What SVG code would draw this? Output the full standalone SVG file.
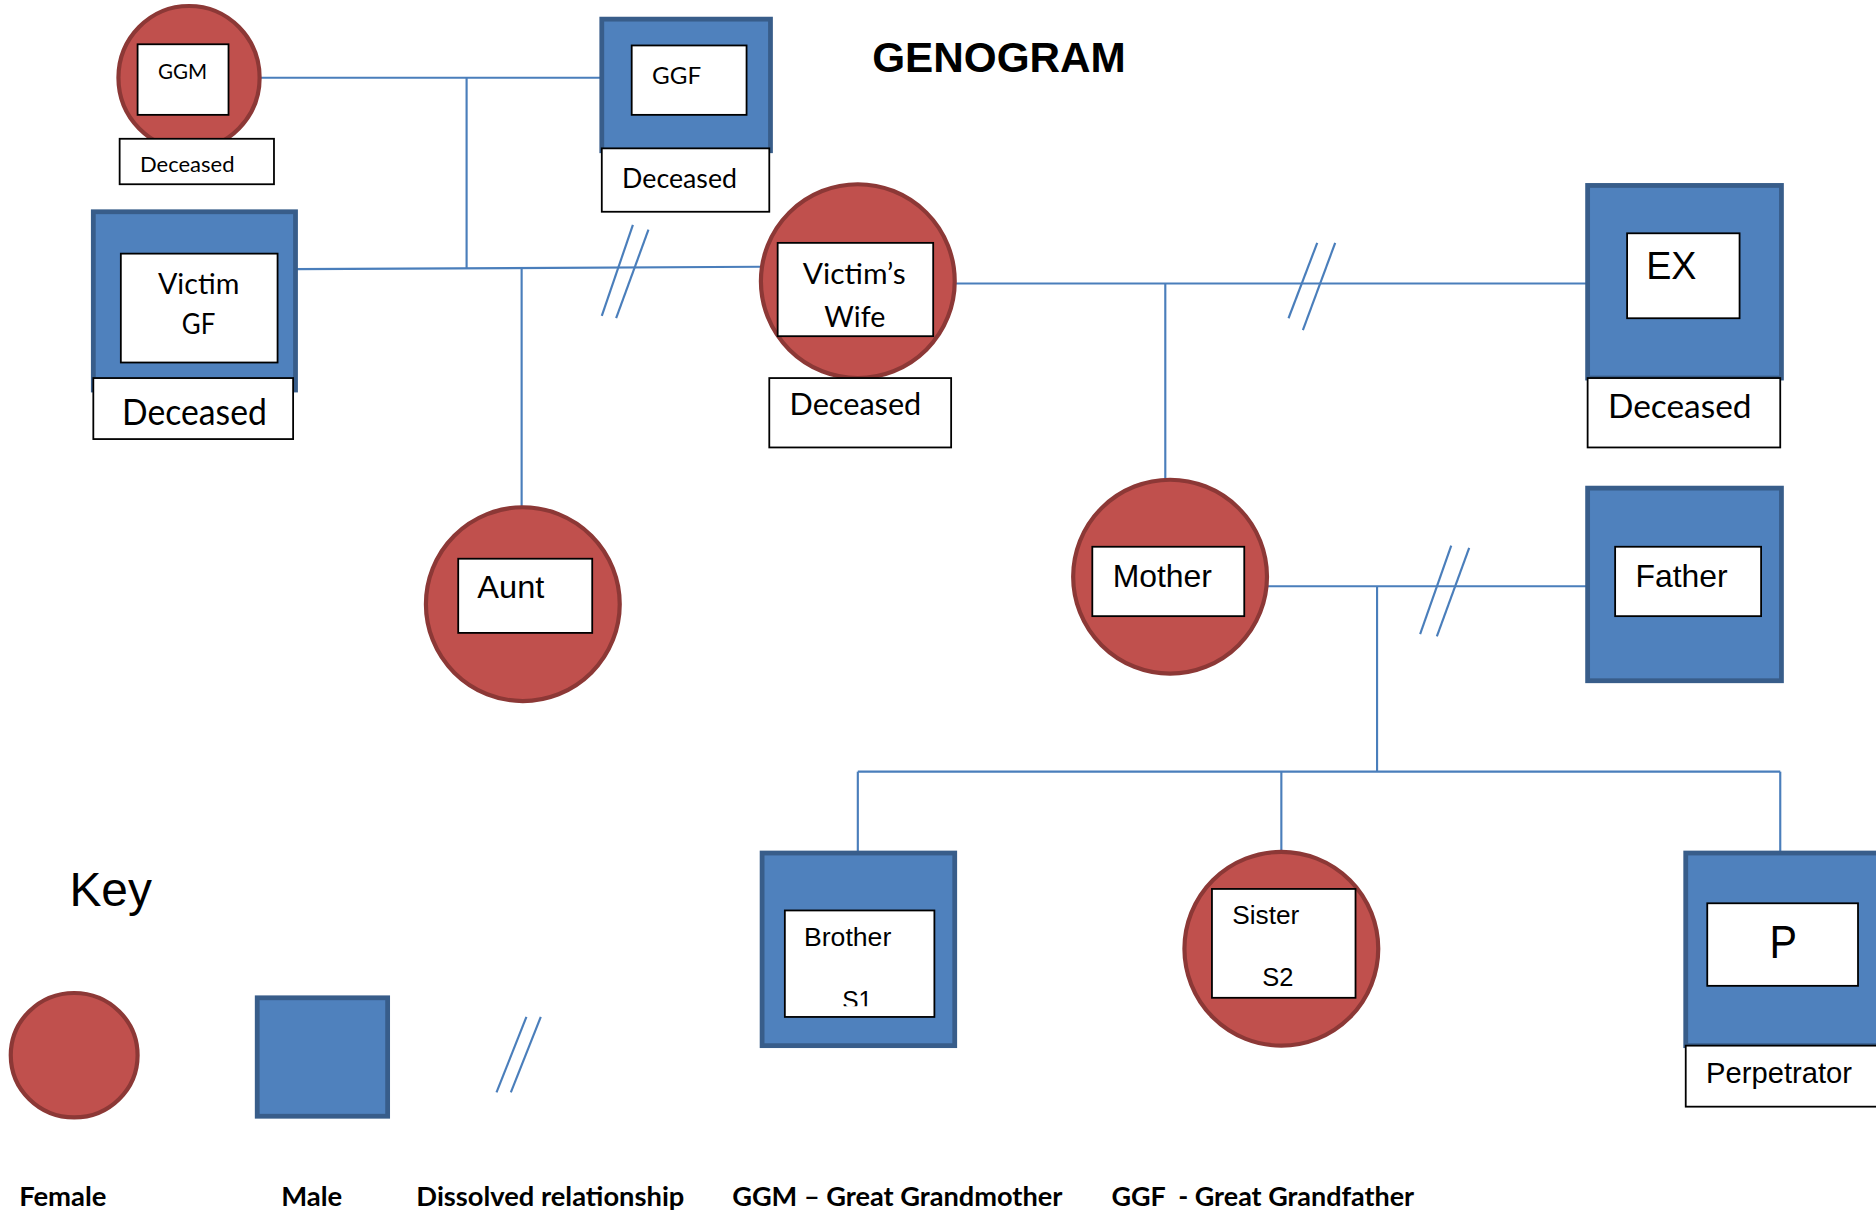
<svg xmlns="http://www.w3.org/2000/svg" width="1876" height="1214" viewBox="0 0 1876 1214">
<defs>
<style>
.f{fill:#C0504D;stroke:#8C3836;stroke-width:3.5}
.m{fill:#4F81BD;stroke:#385D8A;stroke-width:4}
.b{fill:#fff;stroke:#000;stroke-width:1.5}
.c{fill:none;stroke:#4A7EBB;stroke-width:1.8}
.t{font-family:"Liberation Sans",Arial,sans-serif;fill:#000}
.tb{font-family:"Liberation Sans",Arial,sans-serif;font-weight:bold;fill:#000}
.k{font-family:Lato,"Liberation Sans",sans-serif;fill:#000}
.kb{font-family:Lato,"Liberation Sans",sans-serif;font-weight:bold;fill:#000}
</style>
<clipPath id="s1clip"><rect x="656" y="761" width="125" height="80"/></clipPath>
</defs>
<rect width="1876" height="1214" fill="#fff"/>
<g transform="scale(1.1964)">
<g id="connectors">
<line class="c" x1="217" y1="65" x2="503" y2="65"/>
<line class="c" x1="390" y1="65" x2="390" y2="224"/>
<line class="c" x1="247" y1="225" x2="636" y2="223"/>
<line class="c" x1="436" y1="224" x2="436" y2="424"/>
<line class="c" x1="529" y1="188" x2="503" y2="264"/>
<line class="c" x1="542" y1="192" x2="515" y2="266"/>
<line class="c" x1="798" y1="237" x2="1327" y2="237"/>
<line class="c" x1="974" y1="237" x2="974" y2="401"/>
<line class="c" x1="1101" y1="203" x2="1077" y2="266"/>
<line class="c" x1="1116" y1="203" x2="1089" y2="276"/>
<line class="c" x1="1059" y1="490" x2="1327" y2="490"/>
<line class="c" x1="1213" y1="456" x2="1187" y2="530"/>
<line class="c" x1="1228" y1="458" x2="1201" y2="532"/>
<line class="c" x1="1151" y1="490" x2="1151" y2="645"/>
<line class="c" x1="717" y1="645" x2="1488" y2="645"/>
<line class="c" x1="717" y1="645" x2="717" y2="713"/>
<line class="c" x1="1071" y1="645" x2="1071" y2="712"/>
<line class="c" x1="1488" y1="645" x2="1488" y2="713"/>
</g>
<text class="tb" x="729" y="60" font-size="35" textLength="212" lengthAdjust="spacingAndGlyphs">GENOGRAM</text>
<g id="ggm">
<ellipse class="f" cx="158" cy="65" rx="59" ry="60"/>
<rect class="b" x="115" y="37" width="76" height="59"/>
<text class="k" x="132" y="66" font-size="17" textLength="41" lengthAdjust="spacingAndGlyphs">GGM</text>
<rect class="b" x="100" y="116" width="129" height="38"/>
<text class="k" x="117" y="144" font-size="18" textLength="79" lengthAdjust="spacingAndGlyphs">Deceased</text>
</g>
<g id="ggf">
<rect class="m" x="503" y="16" width="141" height="110"/>
<rect class="b" x="528" y="38" width="96" height="58"/>
<text class="k" x="545" y="70" font-size="20" textLength="41" lengthAdjust="spacingAndGlyphs">GGF</text>
<rect class="b" x="503" y="124" width="140" height="53"/>
<text class="k" x="520" y="157" font-size="22" textLength="96" lengthAdjust="spacingAndGlyphs">Deceased</text>
</g>
<g id="victim-gf">
<rect class="m" x="78" y="177" width="169" height="149"/>
<rect class="b" x="101" y="212" width="131" height="91"/>
<text class="k" x="132" y="246" font-size="24" textLength="68" lengthAdjust="spacingAndGlyphs">Victim</text>
<text class="k" x="152" y="279" font-size="24" textLength="28" lengthAdjust="spacingAndGlyphs">GF</text>
<rect class="b" x="78" y="316" width="167" height="51"/>
<text class="k" x="102" y="355" font-size="30" textLength="121" lengthAdjust="spacingAndGlyphs">Deceased</text>
</g>
<g id="victims-wife">
<ellipse class="f" cx="717" cy="235" rx="81" ry="81"/>
<rect class="b" x="650" y="203" width="130" height="78"/>
<text class="k" x="671" y="237" font-size="24" textLength="86" lengthAdjust="spacingAndGlyphs">Victim’s</text>
<text class="k" x="689" y="273" font-size="24" textLength="51" lengthAdjust="spacingAndGlyphs">Wife</text>
<rect class="b" x="643" y="316" width="152" height="58"/>
<text class="k" x="660" y="347" font-size="26" textLength="110" lengthAdjust="spacingAndGlyphs">Deceased</text>
</g>
<g id="ex">
<rect class="m" x="1327" y="155" width="162" height="161"/>
<rect class="b" x="1360" y="195" width="94" height="71"/>
<text class="t" x="1376" y="233" font-size="32" textLength="42" lengthAdjust="spacingAndGlyphs">EX</text>
<rect class="b" x="1327" y="316" width="161" height="58"/>
<text class="k" x="1344" y="349" font-size="27" textLength="120" lengthAdjust="spacingAndGlyphs">Deceased</text>
</g>
<g id="aunt">
<ellipse class="f" cx="437" cy="505" rx="81" ry="81"/>
<rect class="b" x="383" y="467" width="112" height="62"/>
<text class="t" x="399" y="500" font-size="26" textLength="56" lengthAdjust="spacingAndGlyphs">Aunt</text>
</g>
<g id="mother">
<ellipse class="f" cx="978" cy="482" rx="81" ry="81"/>
<rect class="b" x="913" y="457" width="127" height="58"/>
<text class="t" x="930" y="491" font-size="26" textLength="83" lengthAdjust="spacingAndGlyphs">Mother</text>
</g>
<g id="father">
<rect class="m" x="1327" y="408" width="162" height="161"/>
<rect class="b" x="1350" y="457" width="122" height="58"/>
<text class="t" x="1367" y="491" font-size="26" textLength="77" lengthAdjust="spacingAndGlyphs">Father</text>
</g>
<g id="brother">
<rect class="m" x="637" y="713" width="161" height="161"/>
<rect class="b" x="656" y="761" width="125" height="89"/>
<text class="t" x="672" y="791" font-size="22" textLength="73" lengthAdjust="spacingAndGlyphs">Brother</text>
<text class="t" x="704" y="843" font-size="22" textLength="25" lengthAdjust="spacingAndGlyphs" clip-path="url(#s1clip)">S1</text>
</g>
<g id="sister">
<ellipse class="f" cx="1071" cy="793" rx="81" ry="81"/>
<rect class="b" x="1013" y="743" width="120" height="91"/>
<text class="t" x="1030" y="772" font-size="22" textLength="56" lengthAdjust="spacingAndGlyphs">Sister</text>
<text class="t" x="1055" y="824" font-size="22" textLength="26" lengthAdjust="spacingAndGlyphs">S2</text>
</g>
<g id="perpetrator">
<rect class="m" x="1409" y="713" width="165" height="161"/>
<rect class="b" x="1427" y="755" width="126" height="69"/>
<text class="t" x="1479" y="801" font-size="38" textLength="23" lengthAdjust="spacingAndGlyphs">P</text>
<rect class="b" x="1409" y="874" width="165" height="51"/>
<text class="t" x="1426" y="905" font-size="25" textLength="122" lengthAdjust="spacingAndGlyphs">Perpetrator</text>
</g>
<g id="key">
<text class="t" x="58" y="757" font-size="40" textLength="69" lengthAdjust="spacingAndGlyphs">Key</text>
<ellipse class="f" cx="62" cy="882" rx="53" ry="52"/>
<rect class="m" x="215" y="834" width="109" height="99"/>
<line class="c" x1="440" y1="850" x2="415" y2="913"/>
<line class="c" x1="452" y1="850" x2="427" y2="913"/>
<text class="kb" x="16" y="1008" font-size="22" textLength="73" lengthAdjust="spacingAndGlyphs">Female</text>
<text class="kb" x="235" y="1008" font-size="22" textLength="51" lengthAdjust="spacingAndGlyphs">Male</text>
<text class="kb" x="348" y="1008" font-size="22" textLength="224" lengthAdjust="spacingAndGlyphs">Dissolved relationship</text>
<text class="kb" x="612" y="1008" font-size="22" textLength="276" lengthAdjust="spacingAndGlyphs">GGM – Great Grandmother</text>
<text class="kb" x="929" y="1008" font-size="22" textLength="253" lengthAdjust="spacingAndGlyphs" xml:space="preserve">GGF  - Great Grandfather</text>
</g>
</g>
</svg>
